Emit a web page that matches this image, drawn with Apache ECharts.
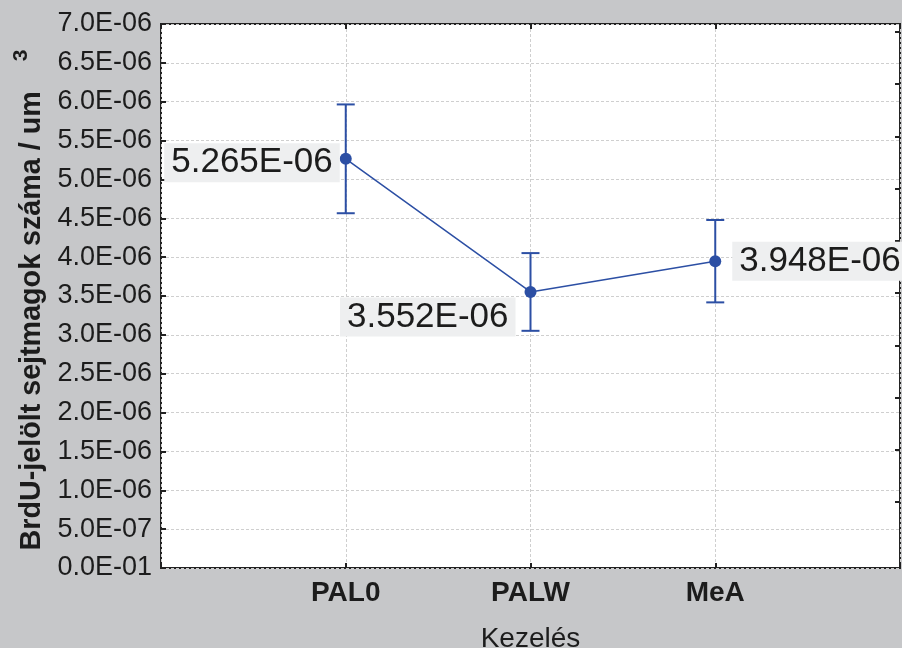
<!DOCTYPE html>
<html>
<head>
<meta charset="utf-8">
<style>
  html, body { margin: 0; padding: 0; background: #c6c7c9; }
  #chart { width: 902px; height: 648px; }
</style>
</head>
<body>
<div id="chart"></div>
<script src="https://cdn.jsdelivr.net/npm/echarts@6/dist/echarts.min.js"></script>
<script>
  // data
  var categories = ['PAL0', 'PALW', 'MeA'];
  var means = [5.265e-6, 3.552e-6, 3.948e-6];
  var lowerBounds = [4.565e-6, 3.052e-6, 3.418e-6];
  var upperBounds = [5.965e-6, 4.052e-6, 4.478e-6];
  var yMin = 0, yMax = 7e-6, yStep = 0.5e-6;

  var blue = '#2c4fa4';
  var ink = '#1c1c1c';
  var font = 'Liberation Sans, Arial, sans-serif';

  // empty slots at both ends so the points sit on band edges
  var axisCats = [''].concat(categories, ['']);

  function sci(v, digits) {
    if (v === 0) return '0.' + '0'.repeat(digits) + 'E-01';
    var parts = v.toExponential(digits).split('e');
    var e = parseInt(parts[1], 10);
    var sign = e < 0 ? '-' : '+';
    e = Math.abs(e);
    return parts[0] + 'E' + sign + (e < 10 ? '0' + e : e);
  }

  var labelBox = {
    show: true,
    fontFamily: font,
    fontSize: 35,
    color: ink,
    backgroundColor: '#eeeff0',
    padding: [3, 7, 1, 7],
    formatter: function (p) { return sci(p.value[1], 3); }
  };
  var labelPlaces = [
    { position: 'left', distance: 0, offset: [0, 4] },
    { position: 'left', distance: 9, offset: [0, 25] },
    { position: 'right', distance: 11 }
  ];

  var lineData = categories.map(function (c, i) {
    return {
      value: [c, means[i]],
      label: Object.assign({}, labelBox, labelPlaces[i])
    };
  });
  var barData = categories.map(function (c, i) {
    return [c, lowerBounds[i], upperBounds[i]];
  });

  var tick = { show: true, inside: true, length: 5, lineStyle: { color: '#222', width: 2 } };

  var chart = echarts.init(document.getElementById('chart'));
  chart.setOption({
    backgroundColor: '#c6c7c9',
    animation: false,
    grid: [
      { left: 161, right: 2, top: 24, bottom: 80, show: true, outerBoundsMode: 'none',
        backgroundColor: '#ffffff', borderColor: '#222', borderWidth: 2 },
      { left: 161, right: 2, top: 32, bottom: 146, outerBoundsMode: 'none' }
    ],
    xAxis: [{
      type: 'category',
      data: axisCats,
      boundaryGap: false,
      axisLine: { show: false },
      axisTick: tick,
      axisLabel: { fontFamily: font, fontSize: 28, fontWeight: 'bold', color: ink, margin: 11 },
      splitLine: { show: true, lineStyle: { color: '#cfcfcf', type: [3, 2], width: 1 } },
      name: 'Kezelés',
      nameLocation: 'middle',
      nameGap: 57,
      nameTextStyle: { fontFamily: font, fontSize: 28, color: ink }
    }, {
      type: 'category',
      position: 'top',
      data: axisCats,
      boundaryGap: false,
      axisLine: { show: false },
      axisTick: tick,
      axisLabel: { show: false },
      splitLine: { show: false }
    }, {
      gridIndex: 1,
      type: 'value',
      min: 0,
      max: 1,
      show: false
    }],
    yAxis: [{
      type: 'value',
      min: yMin,
      max: yMax,
      interval: yStep,
      axisLine: { show: false },
      axisTick: tick,
      axisLabel: {
        fontFamily: font, fontSize: 27, color: ink, margin: 9,
        formatter: function (v) { return sci(v, 1); }
      },
      splitLine: { show: true, lineStyle: { color: '#cfcfcf', type: [3, 2], width: 1 } },
      name: '{a|BrdU-jelölt sejtmagok száma / um}{s|3}',
      nameLocation: 'middle',
      nameGap: 103,
      nameTextStyle: {
        rich: {
          a: { fontFamily: font, fontSize: 28.7, fontWeight: 'bold', color: ink, lineHeight: 42 },
          s: { fontFamily: font, fontSize: 21, fontWeight: 'bold', color: ink, lineHeight: 22,
               verticalAlign: 'top', padding: [0, 8, 0, 30] }
        }
      }
    }, {
      gridIndex: 1,
      type: 'value',
      position: 'right',
      min: 0,
      max: 9,
      interval: 1,
      axisLine: { show: false, onZero: false },
      axisTick: tick,
      axisLabel: { show: false },
      splitLine: { show: false }
    }],
    series: [{
      type: 'custom',
      z: 2,
      data: barData,
      encode: { x: 0, y: [1, 2] },
      renderItem: function (params, api) {
        var lo = api.coord([api.value(0), api.value(1)]);
        var hi = api.coord([api.value(0), api.value(2)]);
        var w = 9;
        var st = { stroke: blue, lineWidth: 2 };
        return {
          type: 'group',
          children: [
            { type: 'line', shape: { x1: hi[0], y1: hi[1], x2: lo[0], y2: lo[1] }, style: st },
            { type: 'line', shape: { x1: hi[0] - w, y1: hi[1], x2: hi[0] + w, y2: hi[1] }, style: st },
            { type: 'line', shape: { x1: lo[0] - w, y1: lo[1], x2: lo[0] + w, y2: lo[1] }, style: st }
          ]
        };
      }
    }, {
      type: 'line',
      z: 3,
      data: lineData,
      symbol: 'circle',
      symbolSize: 12,
      lineStyle: { color: blue, width: 1.5 },
      itemStyle: { color: blue }
    }]
  });
</script>
</body>
</html>
